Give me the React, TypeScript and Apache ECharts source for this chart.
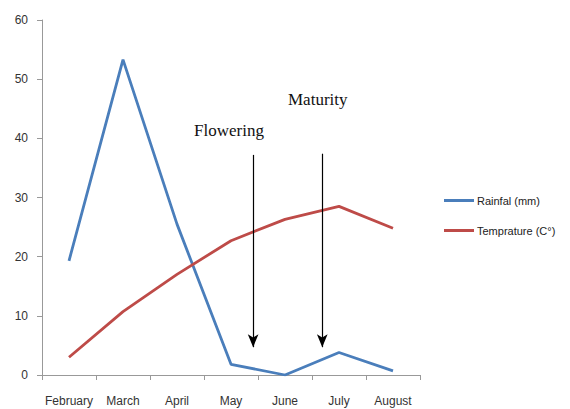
import React, { useEffect, useRef } from "react";
import * as echarts from "echarts";

const months = ["February", "March", "April", "May", "June", "July", "August"];
const rainfall = [19.3, 53.3, 25.5, 1.8, 0, 3.8, 0.7];
const temperature = [3, 10.7, 17, 22.7, 26.3, 28.5, 24.8];
const yTicks = { min: 0, max: 60, interval: 10 };
// annotation arrows: [x position in category units, top value, tip value]
const flowering = [3.91, 37.2, 4.7];
const maturity = [5.19, 37.4, 4.7];

export default function App() {
  const ref = useRef<HTMLDivElement>(null);
  useEffect(() => {
    const chart = echarts.init(ref.current!, undefined, { renderer: "svg" });
    const labelFont = { fontFamily: "Liberation Sans, Arial, sans-serif", fontSize: 12, color: "#333" };
    const arrow = (a: number[]) => ({
      type: "line",
      xAxisIndex: 1,
      data: [],
      silent: true,
      markLine: {
        silent: true,
        symbol: ["none", "arrow"],
        symbolSize: [8, 13],
        lineStyle: { color: "#000", width: 1.2, type: "solid" },
        label: { show: false },
        data: [[{ coord: [a[0], a[1]] }, { coord: [a[0], a[2]] }]],
      },
    });
    chart.setOption({
      animation: false,
      grid: { left: 42, right: 150, top: 20, bottom: 34 },
      legend: {
        orient: "vertical",
        left: 439,
        top: 190,
        itemWidth: 30,
        itemHeight: 3,
        itemGap: 19,
        icon: "rect",
        textStyle: { fontFamily: "Liberation Sans, Arial, sans-serif", fontSize: 11, color: "#222", padding: [0, 0, 0, -2] },
        data: ["Rainfal (mm)", "Temprature (C°)"],
      },
      xAxis: [
        {
          type: "category",
          data: months,
          boundaryGap: true,
          axisLine: { lineStyle: { color: "#999", width: 1 } },
          axisTick: { show: true, length: 5, lineStyle: { color: "#999" }, alignWithLabel: false },
          axisLabel: { ...labelFont, margin: 20, interval: 0 },
        },
        { type: "value", min: 0, max: 7, show: false },
      ],
      yAxis: {
        type: "value",
        min: yTicks.min,
        max: yTicks.max,
        interval: yTicks.interval,
        axisLine: { show: true, lineStyle: { color: "#999", width: 1 } },
        axisTick: { show: true, length: 5, lineStyle: { color: "#999" } },
        splitLine: { show: false },
        axisLabel: { ...labelFont, margin: 14 },
      },
      graphic: [
        {
          type: "text",
          left: 194,
          top: 122,
          style: { text: "Flowering", font: "17px 'Liberation Serif', 'Times New Roman', serif", fill: "#111" },
        },
        {
          type: "text",
          left: 288,
          top: 91,
          style: { text: "Maturity", font: "17px 'Liberation Serif', 'Times New Roman', serif", fill: "#111" },
        },
      ],
      series: [
        {
          name: "Rainfal (mm)",
          type: "line",
          data: rainfall,
          symbol: "none",
          lineStyle: { color: "#4a7ebb", width: 2.8 },
          itemStyle: { color: "#4a7ebb" },
        },
        {
          name: "Temprature (C°)",
          type: "line",
          data: temperature,
          symbol: "none",
          lineStyle: { color: "#be4b48", width: 2.8 },
          itemStyle: { color: "#be4b48" },
        },
        arrow(flowering),
        arrow(maturity),
      ],
    });
    return () => chart.dispose();
  }, []);
  return <div ref={ref} style={{ width: 570, height: 409, position: "absolute", left: 0, top: 0, background: "#fff" }} />;
}
